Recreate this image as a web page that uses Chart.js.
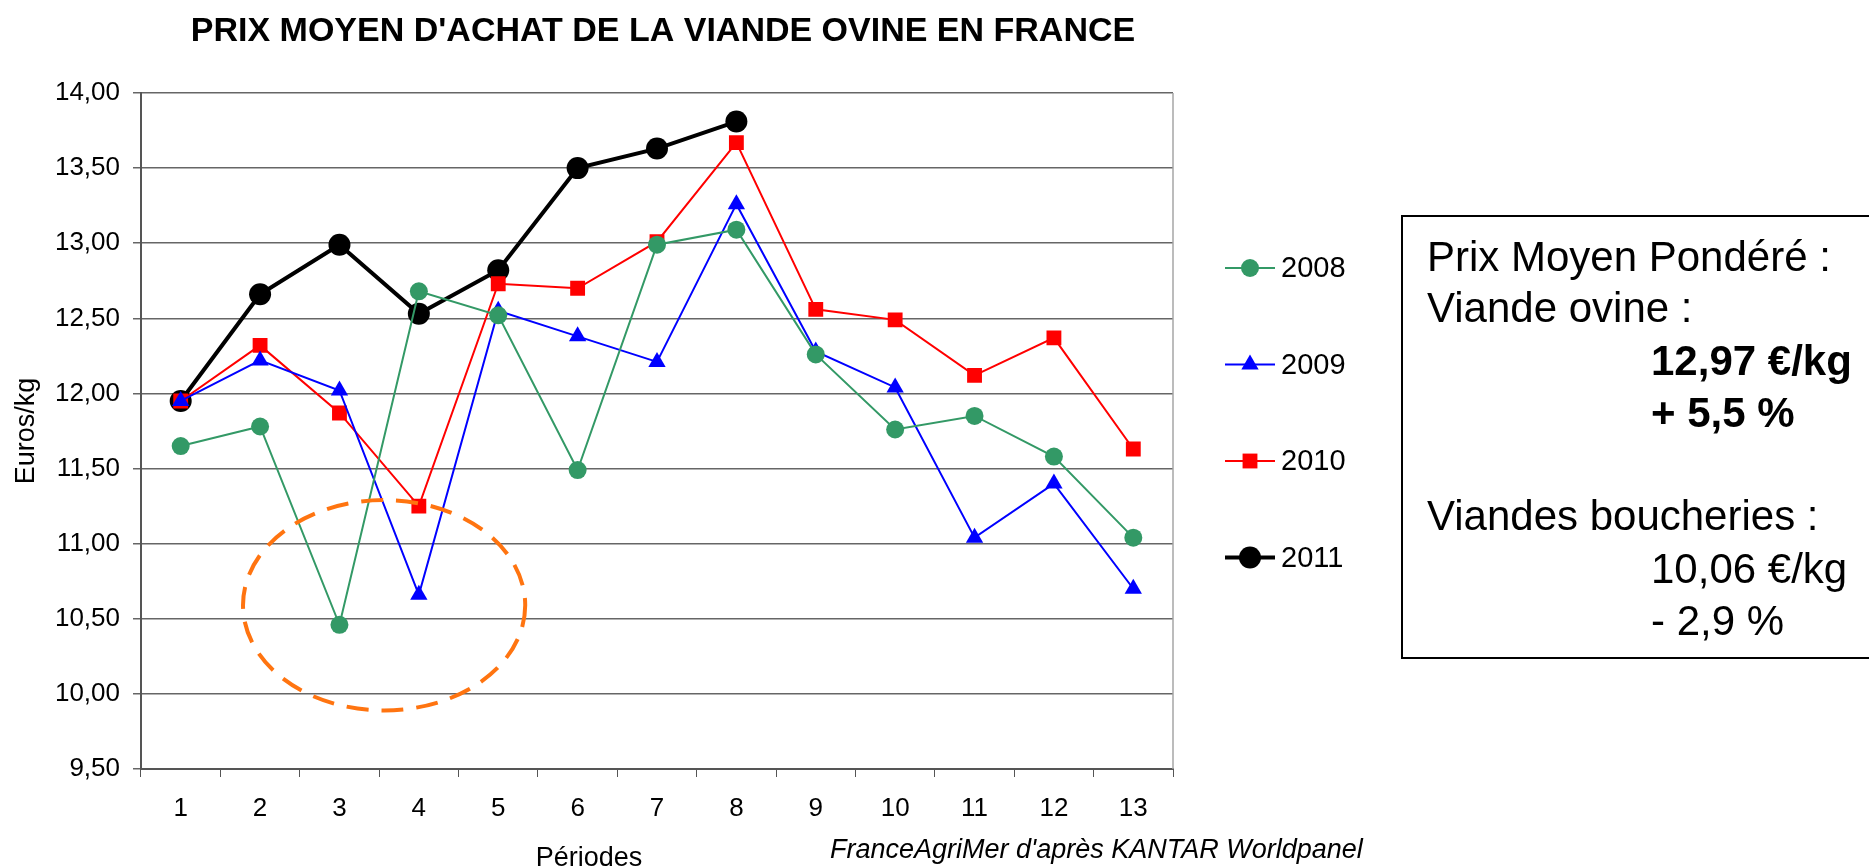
<!DOCTYPE html>
<html>
<head>
<meta charset="utf-8">
<script src="https://cdn.jsdelivr.net/npm/chart.js@4/dist/chart.umd.min.js"></script>
<style>
    html, body { margin: 0; padding: 0; background: #fff; }
    #wrap { width: 1869px; height: 867px; position: relative; }
</style>
</head>
<body>
<div id="wrap"><canvas id="prixChart" width="1869" height="867"></canvas></div>
<script>
// Periods and yearly prices (Euros/kg)
var periodes = ['1', '2', '3', '4', '5', '6', '7', '8', '9', '10', '11', '12', '13'];
var prix2008 = [11.65, 11.78, 10.46, 12.68, 12.52, 11.49, 12.99, 13.09, 12.26, 11.76, 11.85, 11.58, 11.04];
var prix2009 = [11.95, 12.22, 12.02, 10.66, 12.55, 12.38, 12.21, 13.26, 12.28, 12.04, 11.04, 11.40, 10.70];
var prix2010 = [11.95, 12.32, 11.87, 11.25, 12.73, 12.70, 13.01, 13.67, 12.56, 12.49, 12.12, 12.37, 11.63];
var prix2011 = [11.95, 12.66, 12.99, 12.53, 12.82, 13.50, 13.63, 13.81, null, null, null, null, null];
var yTicks = [9.5, 10, 10.5, 11, 11.5, 12, 12.5, 13, 13.5, 14];

// Highlighted zone (category index range / price range)
var zoneX = [0.785, 4.34];
var zoneY = [9.89, 11.29];

var FONT = '"Liberation Sans", Arial, sans-serif';

// Title, legend, info box, source, highlighted zone
var decorPlugin = {
    id: 'decor',
    afterDatasetsDraw: function (chart) {
        var ctx = chart.ctx;
        var xs = chart.scales.x, ys = chart.scales.y;
        var area = chart.chartArea;

        // right border of plot
        ctx.save();
        ctx.strokeStyle = '#a6a6a6';
        ctx.lineWidth = 1.5;
        ctx.beginPath();
        ctx.moveTo(area.right, area.top);
        ctx.lineTo(area.right, area.bottom);
        ctx.stroke();

        // dashed ellipse
        var x1 = xs.getPixelForValue(zoneX[0]), x2 = xs.getPixelForValue(zoneX[1]);
        var y1 = ys.getPixelForValue(zoneY[1]), y2 = ys.getPixelForValue(zoneY[0]);
        ctx.strokeStyle = '#ff7410';
        ctx.lineWidth = 4;
        ctx.setLineDash([22, 13]);
        ctx.beginPath();
        ctx.ellipse((x1 + x2) / 2, (y1 + y2) / 2, (x2 - x1) / 2, (y2 - y1) / 2, 0, 0, Math.PI * 2);
        ctx.stroke();
        ctx.restore();
    },
    afterDraw: function (chart) {
        var ctx = chart.ctx;
        ctx.save();

        // main title
        ctx.fillStyle = '#000';
        ctx.font = 'bold 34px ' + FONT;
        ctx.textAlign = 'center';
        ctx.textBaseline = 'alphabetic';
        ctx.fillText("PRIX MOYEN D'ACHAT DE LA VIANDE OVINE EN FRANCE", 663, 41);

        // legend
        chart.data.datasets.forEach(function (ds, i) {
            var y = 268 + i * 96.5;
            ctx.strokeStyle = ds.borderColor;
            ctx.lineWidth = ds.borderWidth;
            ctx.beginPath();
            ctx.moveTo(1225, y);
            ctx.lineTo(1275, y);
            ctx.stroke();
            ctx.fillStyle = ds.pointBackgroundColor;
            ctx.strokeStyle = ds.pointBackgroundColor;
            Chart.helpers.drawPoint(ctx, {
                pointStyle: ds.pointStyle,
                radius: ds.pointRadius,
                borderWidth: 0,
                rotation: 0
            }, 1250, y);
            ctx.fillStyle = '#000';
            ctx.font = '29px ' + FONT;
            ctx.textAlign = 'left';
            ctx.textBaseline = 'middle';
            ctx.fillText(ds.label, 1281, y + 1);
        });

        // info box
        ctx.strokeStyle = '#000';
        ctx.lineWidth = 2;
        ctx.strokeRect(1402, 216, 500, 442);
        ctx.fillStyle = '#000';
        ctx.textAlign = 'left';
        ctx.textBaseline = 'alphabetic';
        ctx.font = '42px ' + FONT;
        ctx.fillText('Prix Moyen Pondéré :', 1427, 271);
        ctx.fillText('Viande ovine :', 1427, 322);
        ctx.font = 'bold 42px ' + FONT;
        ctx.fillText('12,97 €/kg', 1651, 375);
        ctx.fillText('+ 5,5 %', 1651, 427);
        ctx.font = '42px ' + FONT;
        ctx.fillText('Viandes boucheries :', 1427, 530);
        ctx.fillText('10,06 €/kg', 1651, 583);
        ctx.fillText('- 2,9 %', 1651, 635);

        // x axis title and source
        ctx.font = '27px ' + FONT;
        ctx.textAlign = 'center';
        ctx.fillText('Périodes', 589, 866);
        ctx.font = 'italic 27px ' + FONT;
        ctx.textAlign = 'left';
        ctx.fillText("FranceAgriMer d'après KANTAR Worldpanel", 830, 858);

        ctx.restore();
    }
};

function serie(label, data, color, style, radius, width) {
    return {
        label: label,
        data: data,
        borderColor: color,
        backgroundColor: color,
        pointBackgroundColor: color,
        pointBorderColor: color,
        pointBorderWidth: 0,
        pointStyle: style,
        pointRadius: radius,
        pointHoverRadius: radius,
        borderWidth: width,
        tension: 0,
        spanGaps: false
    };
}

var ctx = document.getElementById('prixChart').getContext('2d');
var myChart = new Chart(ctx, {
    type: 'line',
    data: {
        labels: periodes,
        datasets: [
            serie('2008', prix2008, '#339966', 'circle', 9, 2),
            serie('2009', prix2009, '#0000ff', 'triangle', 10, 2),
            serie('2010', prix2010, '#ff0000', 'rect', 10.5, 2),
            serie('2011', prix2011, '#000000', 'circle', 11, 4)
        ]
    },
    options: {
        responsive: false,
        animation: false,
        layout: { padding: { left: 0, top: 93, right: 696, bottom: 0 } },
        plugins: {
            legend: { display: false },
            title: { display: false },
            tooltip: { enabled: false }
        },
        scales: {
            x: {
                offset: true,
                afterFit: function (scale) { scale.height = 98; },
                grid: {
                    offset: true,
                    drawOnChartArea: false,
                    drawTicks: true,
                    tickLength: 8,
                    color: '#555'
                },
                border: { color: '#555', width: 2 },
                ticks: {
                    color: '#000',
                    padding: 16,
                    maxRotation: 0,
                    font: { family: FONT, size: 26 }
                }
            },
            y: {
                min: 9.5,
                max: 14,
                afterFit: function (scale) { scale.width = 141; },
                afterBuildTicks: function (scale) {
                    scale.ticks = yTicks.map(function (v) { return { value: v }; });
                },
                grid: {
                    color: '#666',
                    lineWidth: 1.5,
                    tickLength: 8
                },
                border: { color: '#555', width: 2 },
                ticks: {
                    color: '#000',
                    padding: 13,
                    font: { family: FONT, size: 26 },
                    callback: function (v) { return v.toFixed(2).replace('.', ','); }
                },
                title: {
                    display: true,
                    text: 'Euros/kg',
                    color: '#000',
                    font: { family: FONT, size: 27 },
                    padding: { top: 10, bottom: 0 }
                }
            }
        }
    },
    plugins: [decorPlugin]
});
</script>
</body>
</html>
